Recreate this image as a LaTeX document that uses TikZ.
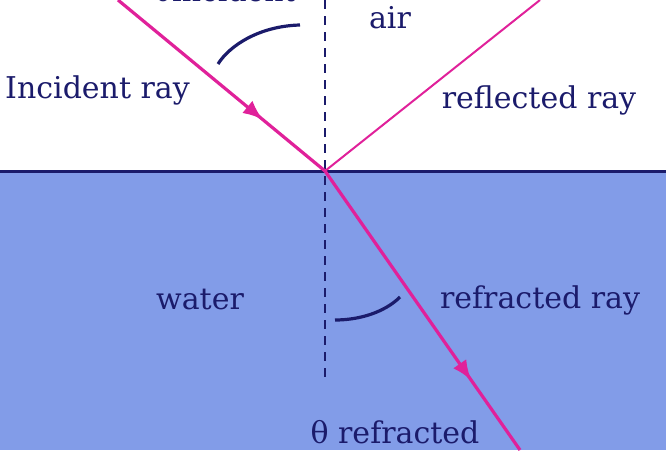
\documentclass[tikz,border=0pt]{standalone}
\usepackage{fontspec}
\setmainfont{DejaVu Serif}
\usetikzlibrary{decorations.markings,arrows.meta}
\definecolor{navy}{HTML}{1B1B6B}
\definecolor{pinkray}{HTML}{E0219A}
\definecolor{water}{HTML}{829CE8}
\tikzset{lbl/.style={text=navy,font=\fontsize{30}{34}\selectfont,inner sep=0pt},
ray/.style={draw=pinkray,line width=3.2pt},
arrowmid/.style={postaction=decorate,decoration={markings,mark=at position #1 with {\arrow{Latex[length=20pt,width=16pt]}}}}}
\begin{document}
\begin{tikzpicture}[x=1pt,y=-1pt]
\useasboundingbox (0,0) rectangle (666,450);
\begin{scope}
\clip (0,0) rectangle (666,450);
\fill[water] (0,171) rectangle (666,450);
\draw[navy,line width=3pt] (0,171) -- (666,171);
\coordinate (o) at (325,171);
\coordinate (inc) at (118,0);
\coordinate (refl) at (540,0);
\coordinate (refr) at (520,450);
\coordinate (nt) at (325,0);
\coordinate (nb) at (325,380);
\draw[navy,line width=2.8pt,dash pattern=on 9pt off 7pt] (nt) -- (nb);
\draw[ray,arrowmid=0.7,fill=pinkray] (inc) -- (o);
\draw[draw=pinkray,line width=2pt] (o) -- (refl);
\draw[ray,arrowmid=0.75,fill=pinkray] (o) -- (refr);
\draw[navy,line width=3.2pt] (300,25) .. controls (260,26) and (230,45) .. (218,64);
\draw[navy,line width=3.2pt] (335,320) .. controls (360,320) and (385,312) .. (400,297);
\node[lbl,anchor=west] (t1) at (5,90) {Incident ray};
\node[lbl] (t2) at (390,18) {air};
\node[lbl] (t3) at (539,100) {reflected ray};
\node[lbl] (t4) at (200,300) {water};
\node[lbl] (t5) at (540,300) {refracted ray};
\node[lbl] (t6) at (395,432) {θ refracted};
\node[lbl] (t7) at (225,-10) {θincident};
\end{scope}
\end{tikzpicture}
\end{document}
